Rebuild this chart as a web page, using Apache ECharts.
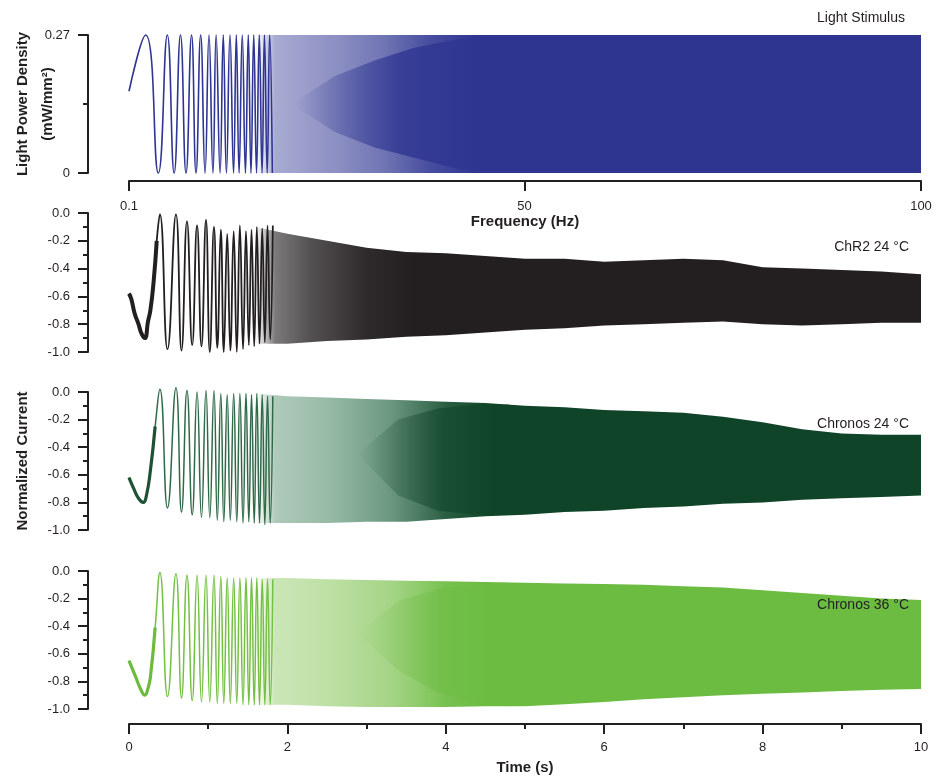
<!DOCTYPE html>
<html><head><meta charset="utf-8">
<script src="https://cdn.jsdelivr.net/npm/echarts@6/dist/echarts.min.js"></script>
<style>html,body{margin:0;padding:0;background:#fff}#c{width:936px;height:778px}</style>
</head><body><div id="c"></div>
<script>
// ---------- data ----------
// Stimulus: resolved early cycles (time s, light power mW/mm^2)
const stimT = [0, 0.21, 0.37, 0.484, 0.57, 0.65, 0.72, 0.79, 0.846, 0.905, 0.96, 1.01, 1.06, 1.10, 1.15, 1.19, 1.23, 1.275, 1.32, 1.355, 1.39, 1.43, 1.47, 1.506, 1.54, 1.575, 1.61, 1.645, 1.68, 1.71, 1.745, 1.776, 1.81];
const stimV = [0.16, 0.27, 0, 0.27, 0, 0.27, 0, 0.27, 0, 0.27, 0, 0.27, 0, 0.27, 0, 0.27, 0, 0.27, 0, 0.27, 0, 0.27, 0, 0.27, 0, 0.27, 0, 0.27, 0, 0.27, 0, 0.27, 0];

// Responses: times of resolved peaks/troughs (alternating)
const respT = [0.39, 0.486, 0.593, 0.663, 0.732, 0.798, 0.859, 0.915, 0.972, 1.02, 1.073, 1.115, 1.159, 1.197, 1.24, 1.279, 1.322, 1.361, 1.40, 1.44, 1.477, 1.513, 1.547, 1.581, 1.614, 1.648, 1.682, 1.715, 1.749, 1.783, 1.816];

const chr2StartT = [0, 0.03, 0.07, 0.12, 0.16, 0.2, 0.24, 0.27, 0.31, 0.35];
const chr2StartV = [-0.58, -0.62, -0.72, -0.8, -0.87, -0.9, -0.78, -0.7, -0.5, -0.2];
const chr2Ext = [-0.01,-0.98,-0.01,-0.99,-0.06,-0.95,-0.09,-0.96,-0.05,-1.0,-0.10,-0.97,-0.12,-1.0,-0.15,-0.99,-0.13,-1.0,-0.09,-0.98,-0.13,-0.95,-0.12,-0.96,-0.10,-0.94,-0.11,-0.93,-0.09,-0.91,-0.09];

const c24StartT = [0, 0.06, 0.12, 0.18, 0.22, 0.27, 0.33];
const c24StartV = [-0.62, -0.7, -0.77, -0.8, -0.75, -0.57, -0.25];
const c24Ext = [0.02,-0.84,0.03,-0.87,0.01,-0.89,0.0,-0.91,0.01,-0.91,0.01,-0.93,-0.01,-0.94,-0.02,-0.93,-0.01,-0.94,-0.01,-0.95,-0.01,-0.94,-0.02,-0.95,-0.01,-0.95,-0.02,-0.96,-0.03,-0.95,-0.03];

const c36StartT = [0, 0.05, 0.1, 0.15, 0.2, 0.24, 0.27, 0.33];
const c36StartV = [-0.65, -0.72, -0.79, -0.86, -0.9, -0.85, -0.77, -0.41];
const c36Ext = [-0.01,-0.91,-0.02,-0.92,-0.03,-0.94,-0.03,-0.95,-0.03,-0.95,-0.03,-0.96,-0.04,-0.96,-0.05,-0.96,-0.05,-0.96,-0.05,-0.97,-0.05,-0.97,-0.05,-0.97,-0.05,-0.97,-0.06,-0.97,-0.06,-0.97,-0.06];

// Dense part: envelope (upper / lower) of each trace
const bandT = [1.6, 2, 2.5, 3, 3.5, 4, 4.5, 5, 5.5, 6, 6.5, 7, 7.5, 8, 8.5, 9, 9.5, 10];
const stimUpper = [0.27,0.27,0.27,0.27,0.27,0.27,0.27,0.27,0.27,0.27,0.27,0.27,0.27,0.27,0.27,0.27,0.27,0.27];
const stimLower = [0,0,0,0,0,0,0,0,0,0,0,0,0,0,0,0,0,0];
const chr2Upper = [-0.10, -0.15, -0.20, -0.25, -0.28, -0.29, -0.31, -0.33, -0.33, -0.35, -0.34, -0.33, -0.34, -0.39, -0.40, -0.41, -0.42, -0.44];
const chr2Lower = [-0.94, -0.94, -0.92, -0.91, -0.89, -0.88, -0.86, -0.84, -0.83, -0.81, -0.80, -0.79, -0.78, -0.80, -0.81, -0.80, -0.79, -0.79];
const c24Upper = [-0.01, -0.03, -0.04, -0.05, -0.06, -0.07, -0.08, -0.10, -0.11, -0.13, -0.14, -0.15, -0.18, -0.22, -0.27, -0.30, -0.31, -0.31];
const c24Lower = [-0.95, -0.95, -0.95, -0.94, -0.94, -0.92, -0.90, -0.89, -0.87, -0.86, -0.84, -0.83, -0.81, -0.80, -0.78, -0.77, -0.76, -0.75];
const c36Upper = [-0.05, -0.05, -0.06, -0.065, -0.07, -0.075, -0.08, -0.085, -0.09, -0.095, -0.10, -0.11, -0.12, -0.14, -0.16, -0.18, -0.20, -0.21];
const c36Lower = [-0.97, -0.97, -0.98, -0.985, -0.985, -0.985, -0.98, -0.98, -0.965, -0.95, -0.93, -0.915, -0.90, -0.89, -0.88, -0.87, -0.86, -0.855];

// Darker moire core inside the dense part (time, upper, lower)
const stimCoreT = [2.1, 2.6, 3.1, 3.6, 4.1, 4.5];
const stimCoreU = [0.14, 0.19, 0.22, 0.245, 0.26, 0.27];
const stimCoreL = [0.13, 0.08, 0.05, 0.03, 0.01, 0];
const c24CoreT = [2.9, 3.4, 3.9, 4.4, 4.8];
const c24CoreU = [-0.44, -0.20, -0.12, -0.09, -0.09];
const c24CoreL = [-0.46, -0.75, -0.86, -0.89, -0.89];
const c36CoreT = [2.9, 3.4, 3.9, 4.4, 4.8];
const c36CoreU = [-0.44, -0.22, -0.13, -0.09, -0.085];
const c36CoreL = [-0.46, -0.72, -0.88, -0.96, -0.98];

// Axis ticks / labels
const freqTicks = [0.1, 50, 100];
const panelLabels = ['Light Stimulus', 'ChR2 24 \u00B0C', 'Chronos 24 \u00B0C', 'Chronos 36 \u00B0C'];

// ---------- chart ----------
const INK = '#231f20';
const FONT = '"Liberation Sans", Arial, Helvetica, sans-serif';
const chart = echarts.init(document.getElementById('c'), null, {renderer: 'canvas'});

const zip = (xs, ys) => xs.map((x, i) => [x, ys[i]]);
const tickStyle = {lineStyle: {color: INK, width: 2}};

function grad(T, stops) {
  const t0 = T[0], t1 = T[T.length - 1];
  return new echarts.graphic.LinearGradient(0, 0, 1, 0,
    stops.map(s => ({offset: Math.min(1, Math.max(0, (s[0] - t0) / (t1 - t0))), color: s[1]})));
}
// soft horizontal fade-in for the moire cores
function fade(rgb, a) {
  return new echarts.graphic.LinearGradient(0, 0, 1, 0, [
    {offset: 0, color: 'rgba(' + rgb + ',0)'},
    {offset: 0.55, color: 'rgba(' + rgb + ',' + a + ')'},
    {offset: 1, color: 'rgba(' + rgb + ',' + a + ')'}]);
}

function band(xi, yi, T, upper, lower, fill, z) {
  return {
    type: 'custom', xAxisIndex: xi, yAxisIndex: yi, clip: false, silent: true, z: z || 1,
    data: [[T[0], upper[0]]],
    renderItem: function (params, api) {
      const pts = [];
      for (let i = 0; i < T.length; i++) pts.push(api.coord([T[i], upper[i]]));
      for (let i = T.length - 1; i >= 0; i--) pts.push(api.coord([T[i], lower[i]]));
      return {type: 'polygon', shape: {points: pts}, style: {fill: fill, stroke: null}};
    }
  };
}

function trace(xi, yi, data, color, width) {
  return {type: 'line', xAxisIndex: xi, yAxisIndex: yi, data: data, symbol: 'none', smooth: 0.5,
          clip: false, lineStyle: {color: color, width: width}, silent: true, z: 3};
}

const gridBase = {left: 129, right: 15, containLabel: false, outerBoundsMode: 'none'};
const grids = [
  Object.assign({top: 35, height: 138}, gridBase),
  Object.assign({top: 213, height: 139}, gridBase),
  Object.assign({top: 392, height: 138}, gridBase),
  Object.assign({top: 571, height: 138}, gridBase)
];

const hiddenTime = gi => ({type: 'value', gridIndex: gi, min: 0, max: 10, show: false});

const curY = (gi, extra) => Object.assign({
  type: 'value', gridIndex: gi, min: -1, max: 0, interval: 0.2, offset: 41,
  axisLine: {show: true, onZero: false, lineStyle: {color: INK, width: 2}},
  axisTick: Object.assign({show: true, length: 10}, tickStyle),
  minorTick: Object.assign({show: true, splitNumber: 2, length: 5}, tickStyle),
  splitLine: {show: false}, minorSplitLine: {show: false},
  axisLabel: {color: INK, fontSize: 13, fontFamily: FONT, margin: 18, formatter: v => v.toFixed(1)}
}, extra || {});

const option = {
  animation: false,
  backgroundColor: '#fff',
  grid: grids,
  xAxis: [
    hiddenTime(0),
    {type: 'value', gridIndex: 0, min: 0.1, max: 100, position: 'bottom', offset: 8,
     axisLine: {onZero: false, lineStyle: {color: INK, width: 2}},
     axisTick: Object.assign({show: true, length: 10, customValues: freqTicks}, tickStyle),
     axisLabel: {color: INK, fontSize: 13, fontFamily: FONT, margin: 19, customValues: freqTicks,
                 formatter: v => String(v)},
     splitLine: {show: false},
     name: 'Frequency (Hz)', nameLocation: 'middle', nameGap: 31,
     nameTextStyle: {color: INK, fontSize: 15, fontWeight: 'bold', fontFamily: FONT}},
    hiddenTime(1),
    hiddenTime(2),
    {type: 'value', gridIndex: 3, min: 0, max: 10, interval: 2, offset: 15, position: 'bottom',
     axisLine: {onZero: false, lineStyle: {color: INK, width: 2}},
     axisTick: Object.assign({show: true, length: 10}, tickStyle),
     minorTick: Object.assign({show: true, splitNumber: 2, length: 5}, tickStyle),
     axisLabel: {color: INK, fontSize: 13, fontFamily: FONT, margin: 17},
     splitLine: {show: false}, minorSplitLine: {show: false},
     name: 'Time (s)', nameLocation: 'middle', nameGap: 36,
     nameTextStyle: {color: INK, fontSize: 15, fontWeight: 'bold', fontFamily: FONT}}
  ],
  yAxis: [
    {type: 'value', gridIndex: 0, min: 0, max: 0.27, interval: 0.27, offset: 41, position: 'left',
     axisLine: {show: true, onZero: false, lineStyle: {color: INK, width: 2}},
     axisTick: Object.assign({show: true, length: 10}, tickStyle),
     minorTick: Object.assign({show: true, splitNumber: 2, length: 5}, tickStyle),
     splitLine: {show: false}, minorSplitLine: {show: false},
     axisLabel: {color: INK, fontSize: 13, fontFamily: FONT, margin: 18},
     name: 'Light Power Density\n(mW/mm\u00B2)', nameLocation: 'middle', nameRotate: 90, nameGap: 28,
     nameMoveOverlap: false,
     nameTextStyle: {color: INK, fontSize: 15, fontWeight: 'bold', fontFamily: FONT, lineHeight: 25}},
    curY(1),
    curY(2, {name: 'Normalized Current', nameLocation: 'middle', nameRotate: 90, nameGap: 58,
             nameTextStyle: {color: INK, fontSize: 15, fontWeight: 'bold', fontFamily: FONT}}),
    curY(3)
  ],
  series: [
    band(0, 0, bandT, stimUpper, stimLower, grad(bandT, [[1.6, 'rgba(46,53,145,0)'], [1.85, 'rgba(46,53,145,0.42)'], [2.6, 'rgba(46,53,145,0.55)'], [3.2, 'rgba(46,53,145,0.68)'], [3.8, 'rgba(46,53,145,0.88)'], [4.4, 'rgba(46,53,145,1)'], [10, 'rgba(46,53,145,1)']])),
    band(0, 0, stimCoreT, stimCoreU, stimCoreL, fade('46,53,145', 0.8), 2),
    band(2, 1, bandT, chr2Upper, chr2Lower, grad(bandT, [[1.6, 'rgba(35,31,32,0)'], [1.85, 'rgba(35,31,32,0.6)'], [2.3, 'rgba(35,31,32,0.78)'], [3.0, 'rgba(35,31,32,0.95)'], [3.6, 'rgba(35,31,32,1)'], [10, 'rgba(35,31,32,1)']])),
    band(3, 2, bandT, c24Upper, c24Lower, grad(bandT, [[1.6, 'rgba(95,150,118,0)'], [1.85, 'rgba(95,150,118,0.5)'], [2.5, 'rgba(95,150,118,0.65)'], [3.3, 'rgba(70,125,95,0.8)'], [4.0, 'rgba(30,85,55,0.95)'], [4.6, 'rgba(16,68,40,1)'], [10, 'rgba(16,68,40,1)']])),
    band(3, 2, c24CoreT, c24CoreU, c24CoreL, fade('16,68,40', 0.6), 2),
    band(4, 3, bandT, c36Upper, c36Lower, grad(bandT, [[1.6, 'rgba(150,205,110,0)'], [1.85, 'rgba(150,205,110,0.5)'], [2.5, 'rgba(150,205,110,0.62)'], [3.3, 'rgba(140,200,100,0.78)'], [4.0, 'rgba(112,190,70,0.95)'], [4.5, 'rgba(108,188,66,1)'], [10, 'rgba(108,188,66,1)']])),
    band(4, 3, c36CoreT, c36CoreU, c36CoreL, fade('108,188,66', 0.5), 2),
    trace(0, 0, zip(stimT, stimV), '#2e3592', 1.6),
    trace(2, 1, zip(chr2StartT, chr2StartV).concat(zip(respT, chr2Ext)), INK, 1.8),
    trace(2, 1, zip(chr2StartT, chr2StartV), INK, 4),
    trace(3, 2, zip(c24StartT, c24StartV).concat(zip(respT, c24Ext)), '#2f6a47', 1.5),
    trace(3, 2, zip(c24StartT, c24StartV), '#1d5234', 3.2),
    trace(4, 3, zip(c36StartT, c36StartV).concat(zip(respT, c36Ext)), '#74c043', 1.5),
    trace(4, 3, zip(c36StartT, c36StartV), '#6cbb3c', 3.2)
  ],
  graphic: [
    {type: 'text', z: 100, x: 905, y: 18, style: {text: panelLabels[0], align: 'right', verticalAlign: 'middle', fill: INK, font: '14px ' + FONT}},
    {type: 'text', z: 100, x: 909, y: 247, style: {text: panelLabels[1], align: 'right', verticalAlign: 'middle', fill: INK, font: '14px ' + FONT}},
    {type: 'text', z: 100, x: 909, y: 424, style: {text: panelLabels[2], align: 'right', verticalAlign: 'middle', fill: INK, font: '14px ' + FONT}},
    {type: 'text', z: 100, x: 909, y: 605, style: {text: panelLabels[3], align: 'right', verticalAlign: 'middle', fill: INK, font: '14px ' + FONT}}
  ]
};
chart.setOption(option);
</script>
</body></html>
